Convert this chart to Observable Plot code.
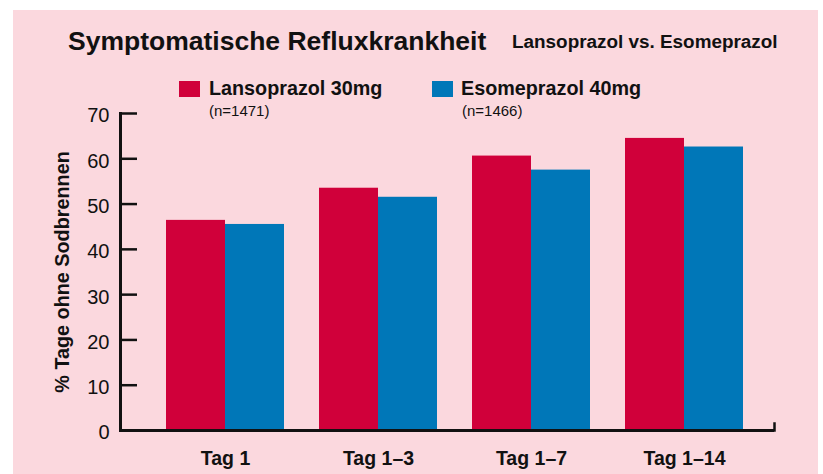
<!DOCTYPE html>
<html><head><meta charset="utf-8">
<script src="https://cdn.jsdelivr.net/npm/d3@7"></script>
<script src="https://cdn.jsdelivr.net/npm/@observablehq/plot@0.6"></script>
<style>
body{margin:0;background:#fff;width:823px;height:474px;overflow:hidden;position:relative;font-family:"Liberation Sans",Arial,sans-serif}
#card{position:absolute;left:13px;top:10px;width:805px;height:464px;background:#fbd8de}
.t{position:absolute;white-space:nowrap;color:#111;font-weight:bold;line-height:1}
.sw{position:absolute;width:21px;height:16px}
#chart{position:absolute;left:0;top:90px}
</style></head>
<body>
<div id="card"></div>
<div id="chart"></div>
<div class="t" id="title" style="left:68px;top:27.6px;font-size:26.5px"></div>
<div class="t" id="subtitle" style="left:512px;top:33.3px;font-size:18.9px"></div>
<div class="sw" id="sw0" style="left:179px;top:81px"></div>
<div class="t" id="lg0" style="left:209px;top:79.3px;font-size:19.75px"></div>
<div class="t" id="n0" style="left:209px;top:103.3px;font-size:15px;font-weight:normal"></div>
<div class="sw" id="sw1" style="left:432px;top:81px"></div>
<div class="t" id="lg1" style="left:461px;top:79.3px;font-size:19.75px"></div>
<div class="t" id="n1" style="left:462px;top:103.3px;font-size:15px;font-weight:normal"></div>
<script>
const titleText = "Symptomatische Refluxkrankheit";
const subtitleText = "Lansoprazol vs. Esomeprazol";
const yLabel = "% Tage ohne Sodbrennen";
const categories = ["Tag 1", "Tag 1–3", "Tag 1–7", "Tag 1–14"];
const seriesNames = ["Lansoprazol 30mg", "Esomeprazol 40mg"];
const seriesN = ["(n=1471)", "(n=1466)"];
const lansoprazol = [46.4, 53.5, 60.6, 64.5];
const esomeprazol = [45.5, 51.5, 57.5, 62.6];
const yTicks = [0, 10, 20, 30, 40, 50, 60, 70];
const colors = ["#d0003a", "#0077b8"];

document.getElementById("title").textContent = titleText;
document.getElementById("subtitle").textContent = subtitleText;
seriesNames.forEach((s, i) => {
  document.getElementById("lg" + i).textContent = s;
  document.getElementById("n" + i).textContent = seriesN[i];
  document.getElementById("sw" + i).style.background = colors[i];
});

const rowsL = categories.map((c, i) => ({cat: c, v: lansoprazol[i]}));
const rowsE = categories.map((c, i) => ({cat: c, v: esomeprazol[i]}));

const W = 823, H = 384, mL = 120, mR = 49, mT = 23, mB = 44;
const FONT = '"Liberation Sans",Arial,sans-serif';

function build(bw) {
  return Plot.plot({
    width: W, height: H,
    marginLeft: mL, marginRight: mR, marginTop: mT, marginBottom: mB,
    style: {background: "transparent", overflow: "visible", fontFamily: FONT, color: "#111"},
    x: {domain: categories, paddingInner: 0.232, paddingOuter: 0.244, align: 0.6, axis: null},
    y: {domain: [0, 70], axis: null},
    marks: [
      Plot.barY(rowsL, {x: "cat", y: "v", fill: colors[0], insetRight: bw / 2}),
      Plot.barY(rowsE, {x: "cat", y: "v", fill: colors[1], insetLeft: bw / 2}),
      Plot.axisY({ticks: yTicks, tickSize: -17, tickFormat: () => "", strokeWidth: 2.5, label: null}),
      Plot.axisY({ticks: yTicks, tickSize: 0, tickPadding: 11, dy: 2.5, fontSize: 20, label: null}),
      Plot.axisX({tickSize: 0, tickPadding: 21, fontSize: 19.5, fontWeight: "bold", label: null}),
      Plot.text([yLabel], {text: d => d, frameAnchor: "left", textAnchor: "middle", rotate: -90, dx: -58, fontSize: 19.8, fontWeight: "bold"}),
      Plot.ruleY([0], {strokeWidth: 3}),
      Plot.frame({anchor: "left", strokeWidth: 3}),
      Plot.frame({anchor: "right", strokeWidth: 2.5, insetTop: H - mT - mB - 7})
    ]
  });
}
const probe = build(0);
const bw = probe.scale("x").bandwidth;
document.getElementById("chart").append(build(bw));
</script>
</body></html>
